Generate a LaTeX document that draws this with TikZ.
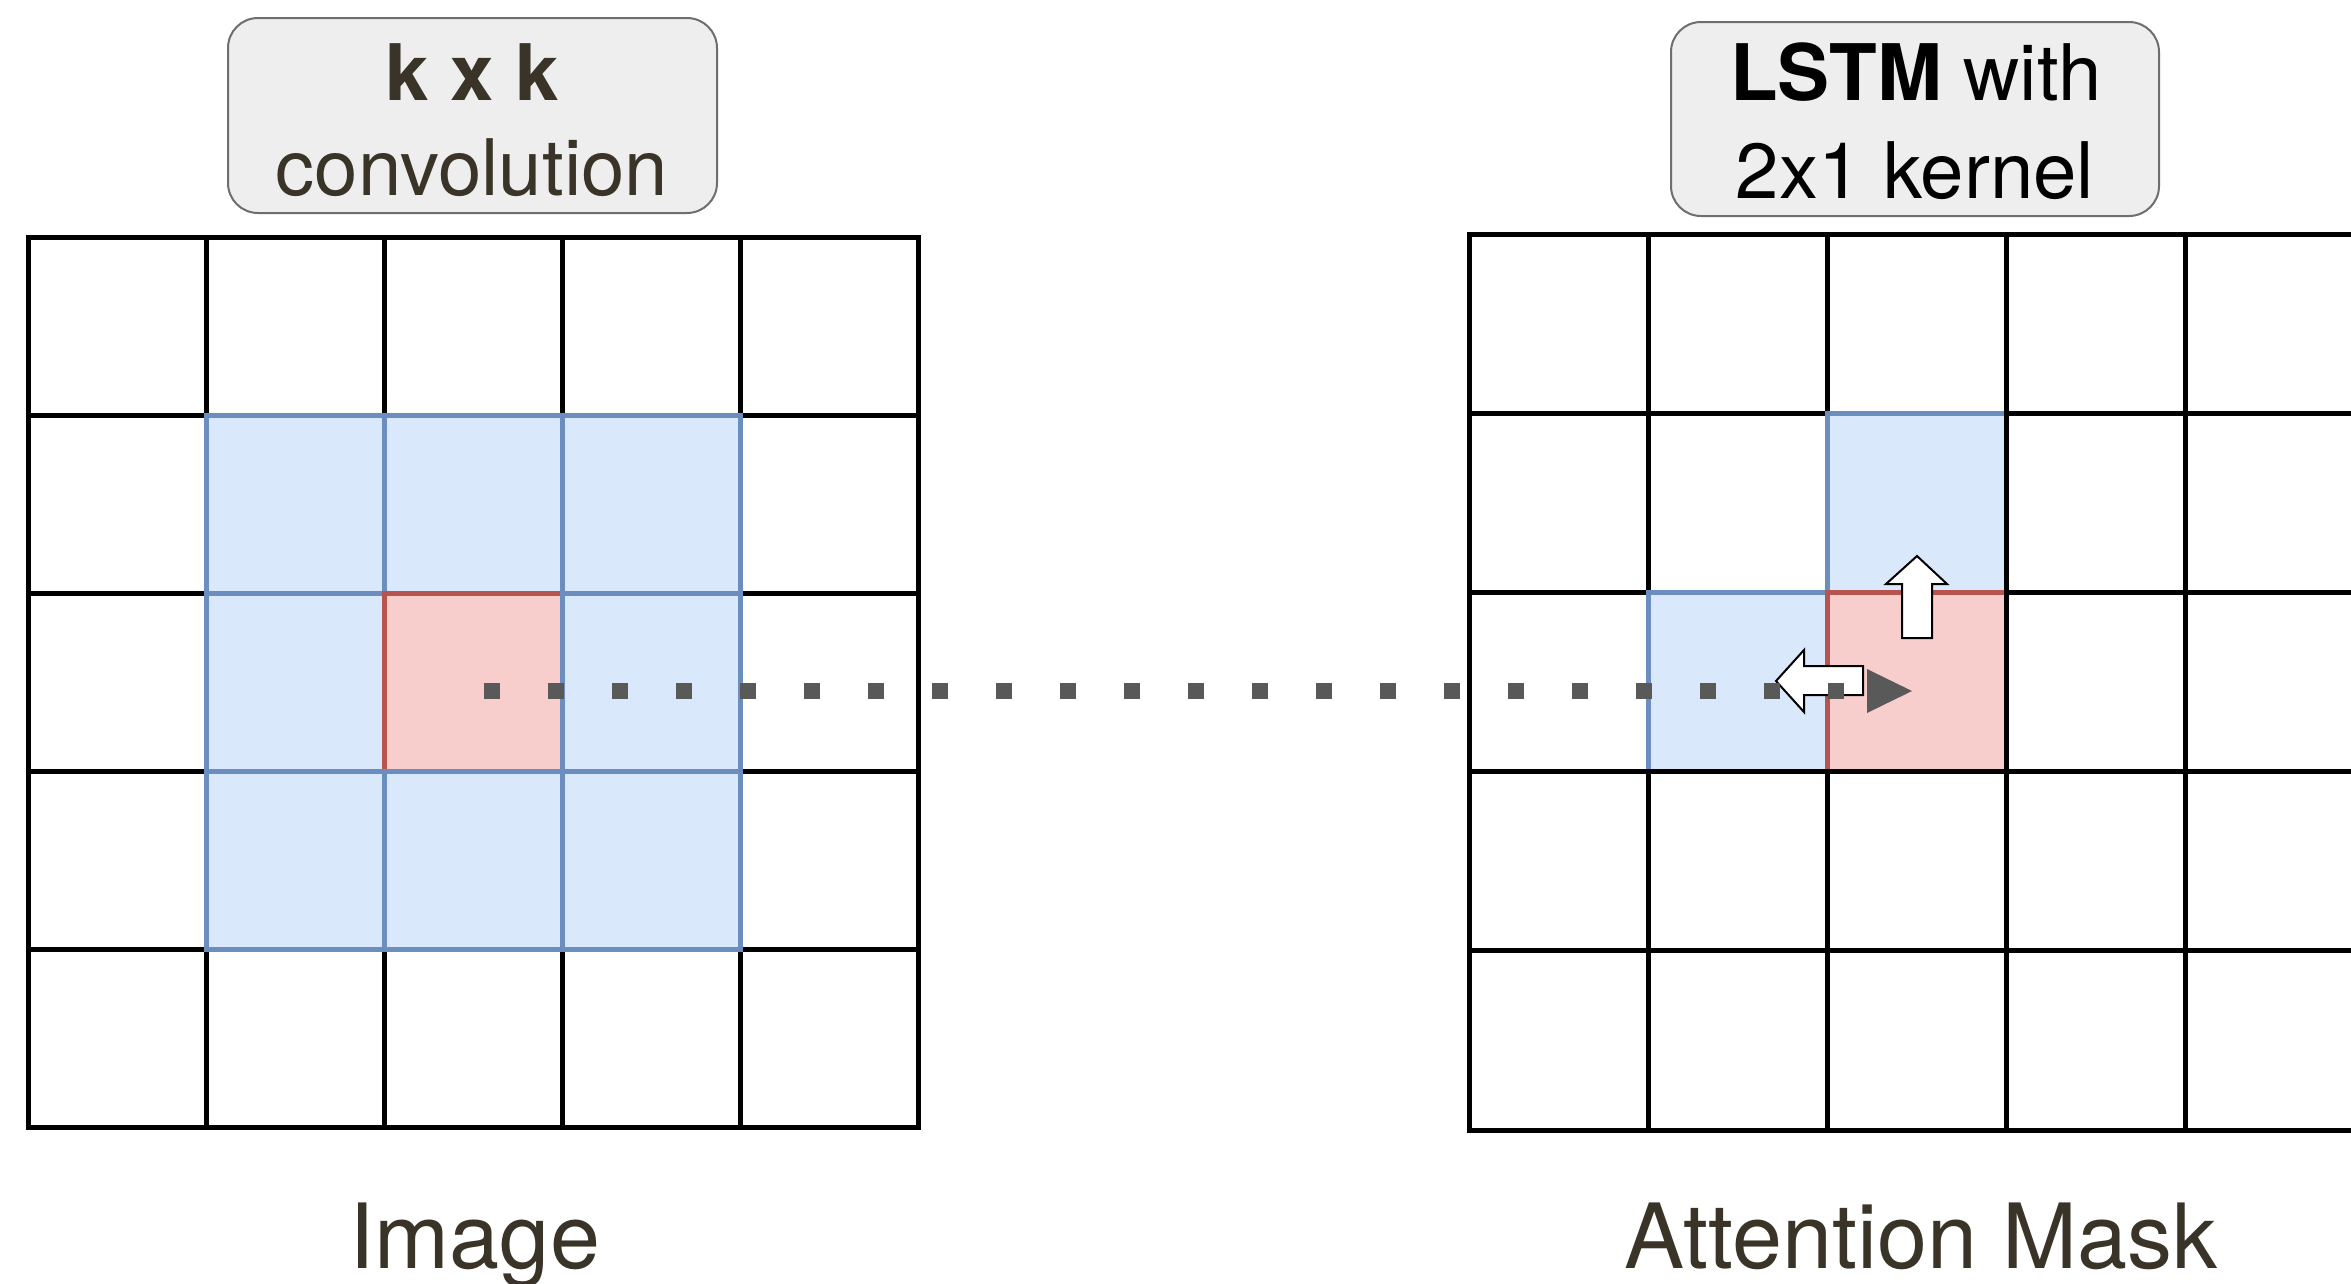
\documentclass[tikz,border=0pt]{standalone}
\usepackage{fontspec}
\setmainfont{TeX Gyre Heros}
\usetikzlibrary{arrows.meta}

\definecolor{cellblue}{HTML}{DAE8FC}
\definecolor{edgeblue}{HTML}{6C8EBF}
\definecolor{cellred}{HTML}{F8CECC}
\definecolor{edgered}{HTML}{B85450}
\definecolor{dotgray}{HTML}{595959}
\definecolor{boxfill}{HTML}{EEEEEE}
\definecolor{boxline}{HTML}{6E6E6E}
\definecolor{ink}{RGB}{58,52,40}

\begin{document}
\begin{tikzpicture}[x=1pt,y=-1pt,
  plain/.style={draw=black,fill=white,line width=5pt},
  kern/.style={draw=edgeblue,fill=cellblue,line width=5pt},
  focus/.style={draw=edgered,fill=cellred,line width=5pt},
  titlebox/.style={draw=boxline,fill=boxfill,line width=2pt,rounded corners=30pt,
    inner sep=0pt},
  titletext/.style={anchor=base,inner sep=0pt,font=\fontsize{78}{94}\selectfont},
  captiontext/.style={anchor=base,inner sep=0pt,text=ink,font=\fontsize{90}{108}\selectfont},
  blockarrow/.style={draw=black,fill=white,line width=2pt,line join=miter},
  flow/.style={draw=dotgray,line width=16pt,dash pattern=on 16pt off 48pt,
    -{Triangle[length=45pt,width=44pt,line width=0pt,fill=dotgray]}}]

% canvas
\fill[white] (0,0) rectangle (2351,1283);
\useasboundingbox (0,0) rectangle (2351,1283);
\clip (0,0) rectangle (2351,1283);

% ---- input image: 5x5 grid with a 3x3 kernel window ----
\foreach \r in {0,...,4}{
  \foreach \c in {0,...,4}{
    \draw[plain] ({28+178*\c},{237+178*\r}) rectangle ++(178,178);
  }
}
\foreach \r/\c/\s in {1/1/kern,1/2/kern,1/3/kern,
                      2/1/kern,2/2/focus,2/3/kern,
                      3/1/kern,3/2/kern,3/3/kern}{
  \draw[\s] ({28+178*\c},{237+178*\r}) rectangle ++(178,178);
}

% ---- attention mask: 5x5 grid, 2x1 neighbourhood of the current cell ----
\foreach \r in {0,...,4}{
  \foreach \c in {0,...,4}{
    \def\sty{plain}
    \ifnum\r=1 \ifnum\c=2 \def\sty{kern}\fi\fi
    \ifnum\r=2 \ifnum\c=1 \def\sty{kern}\fi\fi
    \ifnum\r=2 \ifnum\c=2 \def\sty{focus}\fi\fi
    \draw[\sty] ({1469+179.2*\c},{234+179.2*\r}) rectangle ++(179.2,179.2);
  }
}

% recurrence directions (block arrows)
\draw[blockarrow] (1917,556) -- (1947,584) -- (1932,584) -- (1932,638)
  -- (1902,638) -- (1902,584) -- (1886,584) -- cycle;
\draw[blockarrow] (1776,681) -- (1804,650) -- (1804,666) -- (1863,666)
  -- (1863,695) -- (1804,695) -- (1804,712) -- cycle;

% mapping from image pixel to mask cell
\coordinate (src) at (484,691);
\coordinate (dst) at (1912,691);
\draw[flow] (src) -- (dst);

% ---- title boxes ----
\node[titlebox,minimum width=489pt,minimum height=195pt] (convbox) at (472.5,115.5) {};
\node[titletext,text=ink] (convtop) at (472.5,100) {\bfseries k x k};
\node[titletext,text=ink] (convbot) at (472,195) {convolution};

\node[titlebox,minimum width=488pt,minimum height=194pt] (lstmbox) at (1915,119) {};
\node[titletext,text=black] (lstmtop) at (1916,100) {\textbf{LSTM} with};
\node[titletext,text=black] (lstmbot) at (1915,198) {2x1 kernel};

% ---- captions ----
\node[captiontext] (imgcap) at (475,1268) {Image};
\node[captiontext] (maskcap) at (1921,1268) {Attention Mask};

\end{tikzpicture}
\end{document}
